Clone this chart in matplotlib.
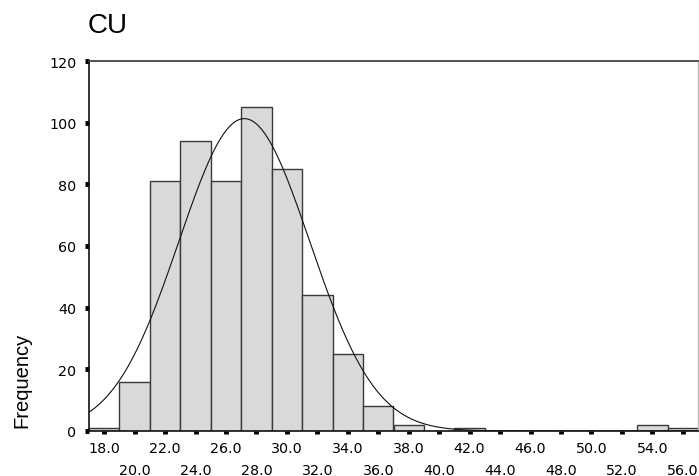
import numpy as np
import matplotlib
matplotlib.use("Agg")
import matplotlib.pyplot as plt

plt.rcParams['font.family'] = ['Liberation Sans', 'DejaVu Sans']

# Data
bin_centers = [18, 20, 22, 24, 26, 28, 30, 32, 34, 36, 38, 40, 42, 44, 46, 48, 50, 52, 54, 56]
frequencies = [1, 16, 81, 94, 81, 105, 85, 44, 25, 8, 2, 0, 1, 0, 0, 0, 0, 0, 2, 1]
bin_width = 2.0
curve_mean = 27.2
curve_sd = 4.3
n_total = sum(frequencies)
major_tick_labels = ['18.0', '22.0', '26.0', '30.0', '34.0', '38.0', '42.0', '46.0', '50.0', '54.0']
minor_tick_labels = ['20.0', '24.0', '28.0', '32.0', '36.0', '40.0', '44.0', '48.0', '52.0', '56.0']
y_ticks = [0, 20, 40, 60, 80, 100, 120]

fig = plt.figure(figsize=(6.99, 4.77), dpi=100)
ax = fig.add_axes([89/699, 45/477, (698-89)/699, 370/477])

ax.bar(bin_centers, frequencies, width=bin_width, color='#d9d9d9',
       edgecolor='#3a3a3a', linewidth=1.0, zorder=2)

xs = np.linspace(17, 57, 400)
ys = n_total * bin_width / (curve_sd * np.sqrt(2 * np.pi)) * np.exp(-0.5 * ((xs - curve_mean) / curve_sd) ** 2)
ax.plot(xs, ys, color='#111111', linewidth=0.8, zorder=3)

ax.set_xlim(17, 57)
ax.set_ylim(0, 120)

tick_font = dict(family=['DejaVu Sans'], size=10.3)
ax.set_yticks(y_ticks)
ax.set_yticklabels([str(v) for v in y_ticks], fontdict=tick_font)
ax.tick_params(axis='y', direction='out', length=3, width=3.5, color='black', pad=6)

major_pos = [float(s) for s in major_tick_labels]
minor_pos = [float(s) for s in minor_tick_labels]
ax.set_xticks(major_pos)
ax.set_xticklabels(major_tick_labels, fontdict=tick_font)
ax.set_xticks(minor_pos, minor=True)
ax.set_xticklabels(minor_tick_labels, minor=True, fontdict=tick_font)
ax.tick_params(axis='x', which='major', direction='out', length=2.5, width=3.5, color='black', pad=4.5)
ax.tick_params(axis='x', which='minor', direction='out', length=2.5, width=3.5, color='black', pad=20.5)

for s in ['left', 'bottom']:
    ax.spines[s].set_color('#111111')
    ax.spines[s].set_linewidth(1.2)
ax.spines['top'].set_color('#444444')
ax.spines['top'].set_linewidth(1.3)
ax.spines['right'].set_color('#bbbbbb')
ax.spines['right'].set_linewidth(1.0)

fig.text(88/699, 1 - 26/477, 'CU', fontsize=20, ha='left', va='center')
fig.text(22/699, 1 - 380/477, 'Frequency', fontsize=14.5, rotation=90, ha='center', va='center')

fig.savefig('out.png', dpi=100)
